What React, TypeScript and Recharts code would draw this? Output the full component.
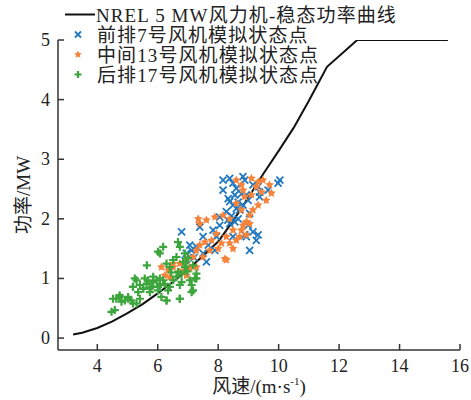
import React from "react";
import { ComposedChart, Line, Scatter, XAxis, YAxis, Legend } from "recharts";

const FONT = "'Liberation Serif', 'Times New Roman', 'Noto Sans CJK SC', serif";
const AXIS_COLOR = "#333";
const BLUE = "#2079c0";
const ORANGE = "#f5843a";
const GREEN = "#3ca53c";

// NREL 5 MW steady-state power curve
const curveSpeed = [3.2, 3.5, 4, 4.5, 5, 5.5, 6, 6.5, 7, 7.5, 8, 8.5, 9, 9.5, 10, 10.5, 11, 11.6, 12.6, 15.6];
const curvePower = [0.06, 0.09, 0.17, 0.28, 0.42, 0.57, 0.75, 0.94, 1.15, 1.38, 1.62, 1.97, 2.36, 2.76, 3.14, 3.53, 3.98, 4.55, 5.0, 5.0];

// 前排7号
const frontSpeed = [
  8.16, 8.38, 8.82, 8.88, 9.15, 9.32, 10.04, 9.98, 8.16, 8.33, 8.38, 8.49, 8.6, 8.71, 8.55, 8.82, 8.99, 9.04,
  8.38, 8.05, 7.83, 7.39, 7.5, 7.06, 7.12, 6.95, 6.79, 7.67, 7.89, 8.49, 8.93, 9.15, 9.32, 9.26, 9.04, 8.99,
  8.88, 8.66, 9.37, 9.65, 9.37, 8.6, 8.49, 8.93, 8.27, 8.05, 7.94, 7.28, 7.5, 6.9, 7.2, 7.61, 8.44, 8.66,
  8.55, 8.77, 8.32,
];
const frontPower = [
  2.65, 2.68, 2.71, 2.65, 2.57, 2.54, 2.65, 2.6, 2.48, 2.34, 2.29, 2.23, 2.17, 2.15, 2.4, 2.23, 2.31, 2.09,
  1.92, 1.89, 1.81, 1.86, 1.7, 1.56, 1.47, 1.42, 1.78, 1.56, 1.47, 1.7, 1.7, 1.78, 1.73, 1.64, 1.47, 1.89,
  1.73, 2.0, 2.45, 2.48, 2.37, 2.51, 2.6, 2.4, 2.12, 2.03, 1.7, 1.53, 1.42, 1.3, 1.35, 1.28, 2.05, 2.28,
  1.95, 2.42, 1.98,
];

// 中间13号
const midSpeed = [
  7.34, 7.39, 7.61, 7.89, 8.16, 8.38, 8.77, 9.1, 9.26, 9.43, 9.48, 9.7, 9.76, 9.59, 9.32, 9.15, 9.04, 8.93,
  8.82, 8.77, 8.49, 8.27, 8.11, 7.94, 7.78, 7.56, 7.39, 7.28, 7.17, 6.95, 6.73, 6.51, 6.34, 6.4, 6.23, 6.9,
  7.06, 7.28, 7.5, 7.72, 8.0, 8.22, 8.38, 8.6, 8.71, 8.93, 9.04, 8.77, 8.6, 8.88, 9.1, 9.32, 8.82, 8.6, 8.49,
  6.12, 6.51, 6.73, 6.95, 7.06, 8.27,
];
const midPower = [
  2.0, 1.92, 1.98, 2.03, 2.06, 2.0, 2.57, 2.68, 2.54, 2.45, 2.65, 2.57, 2.43, 2.31, 2.23, 2.15, 2.06, 1.95,
  1.89, 1.81, 1.81, 1.7, 1.59, 1.75, 1.64, 1.61, 1.56, 1.47, 1.36, 1.31, 1.25, 1.19, 1.14, 1.02, 1.05, 1.14,
  1.19, 1.19, 1.36, 1.47, 1.5, 1.33, 1.59, 1.64, 1.7, 1.73, 1.92, 2.15, 2.26, 2.37, 2.4, 2.62, 2.48, 2.65, 1.5,
  1.19, 1.25, 1.11, 1.05, 1.17, 1.31,
];

// 后排17号
const rearSpeed = [
  4.47, 4.58, 4.63, 4.74, 4.8, 4.91, 5.02, 5.13, 5.18, 5.24, 5.3, 5.35, 5.41, 5.52, 5.63, 5.74, 5.79, 5.85,
  5.96, 6.01, 6.07, 6.12, 6.18, 6.23, 6.29, 6.34, 6.4, 6.51, 6.62, 6.73, 6.79, 6.9, 6.95, 7.06, 7.12, 7.17,
  7.23, 7.28, 6.18, 6.01, 6.67, 6.73, 6.9, 6.51, 6.62, 6.84, 7.0, 7.17, 6.29, 6.4, 6.07, 5.64, 5.57, 5.85,
  6.67, 6.45, 6.79, 6.98, 4.52, 4.74, 5.02, 5.18, 5.41, 5.52, 5.74, 6.01, 6.07, 5.68, 5.3, 5.18, 6.29, 6.73,
  6.73, 7.12, 7.28,
];
const rearPower = [
  0.44, 0.47, 0.66, 0.69, 0.61, 0.63, 0.69, 0.63, 0.86, 1.0, 0.58, 0.77, 0.89, 0.83, 0.91, 0.77, 0.86, 0.94,
  0.97, 0.8, 0.89, 0.69, 0.97, 0.91, 0.63, 0.8, 0.86, 0.97, 1.03, 0.66, 1.08, 1.19, 1.28, 0.97, 0.89, 0.8,
  1.0, 1.08, 1.53, 1.45, 1.61, 1.53, 1.42, 1.31, 1.36, 1.28, 1.34, 1.22, 1.25, 1.19, 1.42, 1.22, 1.0, 1.03,
  1.11, 1.1, 0.94, 1.12, 0.66, 0.72, 0.66, 0.58, 0.66, 0.83, 0.83, 0.86, 1.0, 0.97, 0.97, 0.86, 0.63, 0.66,
  0.89, 0.77, 1.0,
];

const xTicks = [4, 6, 8, 10, 12, 14, 16];
const yTicks = [0, 1, 2, 3, 4, 5];

const zip = (xs: number[], ys: number[]) => xs.map((x, i) => ({ x, y: ys[i] }));

const curveData = zip(curveSpeed, curvePower);
const frontData = zip(frontSpeed, frontPower);
const midData = zip(midSpeed, midPower);
const rearData = zip(rearSpeed, rearPower);

const CrossMark = ({ cx, cy, r = 3.5 }: any) => (
  <path d={`M${cx - r},${cy - r}L${cx + r},${cy + r}M${cx - r},${cy + r}L${cx + r},${cy - r}`} stroke={BLUE} strokeWidth={1.8} />
);

const StarMark = ({ cx, cy, r = 4.6 }: any) => {
  const pts: string[] = [];
  for (let i = 0; i < 10; i++) {
    const rad = i % 2 === 0 ? r : r * 0.5;
    const a = -Math.PI / 2 + (i * Math.PI) / 5;
    pts.push(`${cx + rad * Math.cos(a)},${cy + rad * Math.sin(a)}`);
  }
  return <polygon points={pts.join(" ")} fill={ORANGE} />;
};

const PlusMark = ({ cx, cy, r = 4 }: any) => (
  <path d={`M${cx - r},${cy}L${cx + r},${cy}M${cx},${cy - r}L${cx},${cy + r}`} stroke={GREEN} strokeWidth={2.2} />
);

const XTick = ({ x, y, payload }: any) => (
  <g>
    <line x1={x} x2={x} y1={y - 4} y2={y - 10} stroke={AXIS_COLOR} strokeWidth={1.5} />
    <text x={x} y={y + 18} textAnchor="middle" fontSize={18} fill="#222" fontFamily={FONT}>
      {payload.value}
    </text>
  </g>
);

const YTick = ({ x, y, payload }: any) => (
  <g>
    <line x1={x + 8} x2={x + 14} y1={y} y2={y} stroke={AXIS_COLOR} strokeWidth={1.5} />
    <text x={x} y={y + 6} textAnchor="end" fontSize={18} fill="#222" fontFamily={FONT}>
      {payload.value}
    </text>
  </g>
);

const legendText = { fontSize: 19, fill: "#222", fontFamily: FONT, letterSpacing: 1.1 };

const LegendBox = () => (
  <svg width={471} height={88}>
    <line x1={65} x2={95} y1={14.5} y2={14.5} stroke="#111" strokeWidth={2} />
    <text x={96} y={21.5} {...legendText}>NREL 5 MW风力机-稳态功率曲线</text>
    <CrossMark cx={78} cy={34.5} r={3} />
    <text x={97} y={41.5} {...legendText}>前排7号风机模拟状态点</text>
    <StarMark cx={78} cy={54.5} r={4} />
    <text x={97} y={61.5} {...legendText}>中间13号风机模拟状态点</text>
    <PlusMark cx={78} cy={74.5} r={3.5} />
    <text x={97} y={81.5} {...legendText}>后排17号风机模拟状态点</text>
  </svg>
);

const XLabel = ({ viewBox }: any) => {
  const cx = viewBox.x + viewBox.width / 2;
  return (
    <text x={cx} y={viewBox.y + 43} textAnchor="middle" fontSize={19} fill="#222" fontFamily={FONT}>
      风速/(m·s
      <tspan dy={-8} fontSize={11}>-1</tspan>
      <tspan dy={8}>)</tspan>
    </text>
  );
};

const YLabel = ({ viewBox }: any) => {
  const cy = viewBox.y + viewBox.height / 2;
  return (
    <text
      x={23}
      y={cy}
      transform={`rotate(-90 23 ${cy})`}
      textAnchor="middle"
      dominantBaseline="central"
      fontSize={19}
      fill="#222"
      fontFamily={FONT}
    >
      功率/MW
    </text>
  );
};

export default function App() {
  return (
    <div style={{ position: "absolute", left: 0, top: 0, width: 471, height: 400, background: "#fff" }}>
      <ComposedChart width={471} height={400} margin={{ top: 40, right: 11, bottom: 0, left: 0 }}>
        <XAxis
          dataKey="x"
          type="number"
          domain={[2.7, 16]}
          ticks={xTicks}
          allowDataOverflow
          height={50}
          tickSize={0}
          tickMargin={4}
          tickLine={false}
          axisLine={{ stroke: AXIS_COLOR, strokeWidth: 1.5 }}
          tick={<XTick />}
          label={{ content: XLabel }}
        />
        <YAxis
          dataKey="y"
          type="number"
          domain={[-0.2, 5]}
          ticks={yTicks}
          allowDataOverflow
          width={58}
          tickSize={0}
          tickMargin={8}
          tickLine={false}
          axisLine={{ stroke: AXIS_COLOR, strokeWidth: 1.5 }}
          tick={<YTick />}
          label={{ content: YLabel }}
        />
        <Legend
          layout="vertical"
          align="center"
          verticalAlign="middle"
          wrapperStyle={{ left: 0, top: 0, width: 471, height: 88 }}
          content={<LegendBox />}
        />
        <Scatter data={frontData} dataKey="y" shape={(p: any) => <CrossMark cx={p.cx} cy={p.cy} />} isAnimationActive={false} />
        <Scatter data={midData} dataKey="y" shape={(p: any) => <StarMark cx={p.cx} cy={p.cy} />} isAnimationActive={false} />
        <Scatter data={rearData} dataKey="y" shape={(p: any) => <PlusMark cx={p.cx} cy={p.cy} />} isAnimationActive={false} />
        <Line
          data={curveData}
          dataKey="y"
          type="linear"
          stroke="#111"
          strokeWidth={2}
          dot={false}
          activeDot={false}
          isAnimationActive={false}
        />
      </ComposedChart>
    </div>
  );
}
